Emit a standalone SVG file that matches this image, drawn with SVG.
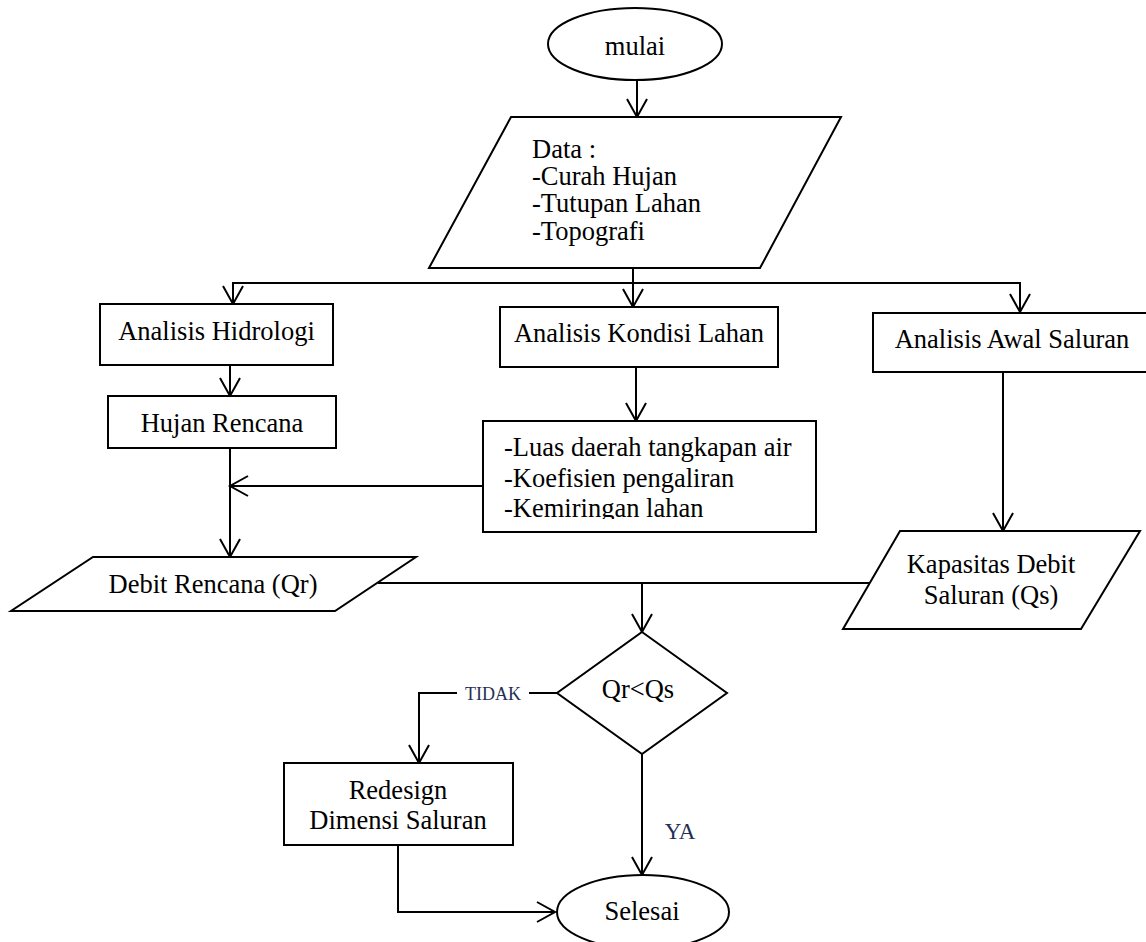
<svg xmlns="http://www.w3.org/2000/svg" width="1146" height="942" viewBox="0 0 1146 942">
  <style>
    .shape { fill: #ffffff; stroke: #000000; stroke-width: 2; }
    .link { fill: none; stroke: #000000; stroke-width: 2; }
    .txt { font-family: "Liberation Serif", "Times New Roman", serif; font-size: 26.5px; fill: #000000; }
    .mid { text-anchor: middle; }
    .lbl { font-family: "Liberation Serif", "Times New Roman", serif; fill: #1f2f55; }
  </style>
  <defs>
    <marker id="arrow" viewBox="-2 -2 22 24" refX="18" refY="10" markerWidth="22" markerHeight="24" markerUnits="userSpaceOnUse" orient="auto" overflow="visible">
      <path d="M0,0 L18,10 L0,20" fill="none" stroke="#000000" stroke-width="2"/>
    </marker>
    <clipPath id="clipLuas">
      <rect x="483" y="421" width="333" height="98"/>
    </clipPath>
  </defs>

  <rect width="1146" height="942" fill="#ffffff"/>

  <!-- connectors -->
  <g id="connectors">
    <path class="link" d="M637,80 V117" marker-end="url(#arrow)"/>
    <path class="link" d="M633,268 V307" marker-end="url(#arrow)"/>
    <path class="link" d="M633,283 H233 V304" marker-end="url(#arrow)"/>
    <path class="link" d="M633,283 H1020 V312" marker-end="url(#arrow)"/>
    <path class="link" d="M230,365 V396" marker-end="url(#arrow)"/>
    <path class="link" d="M230,448 V557" marker-end="url(#arrow)"/>
    <path class="link" d="M483,486 H230" marker-end="url(#arrow)"/>
    <path class="link" d="M636,367 V421" marker-end="url(#arrow)"/>
    <path class="link" d="M1003,372 V531" marker-end="url(#arrow)"/>
    <path class="link" d="M378,583 H870"/>
    <path class="link" d="M642,583 V632" marker-end="url(#arrow)"/>
    <path class="link" d="M557,693 H529"/>
    <path class="link" d="M457,693 H419 V763" marker-end="url(#arrow)"/>
    <path class="link" d="M642,754 V875" marker-end="url(#arrow)"/>
    <path class="link" d="M398,845 V912 H555" marker-end="url(#arrow)"/>
    <text class="lbl" x="493" y="700" font-size="18" text-anchor="middle" textLength="56" lengthAdjust="spacingAndGlyphs">TIDAK</text>
    <text class="lbl" x="680" y="839" font-size="23" text-anchor="middle">YA</text>
  </g>

  <!-- start -->
  <g id="mulai">
    <ellipse class="shape" cx="635" cy="44" rx="87" ry="36"/>
    <text class="txt mid" x="635" y="55">mulai</text>
  </g>

  <!-- input data -->
  <g id="data">
    <polygon class="shape" points="511,117 841,117 760,268 429,268"/>
    <text class="txt" x="532" y="158">Data :</text>
    <text class="txt" x="532" y="185">-Curah Hujan</text>
    <text class="txt" x="532" y="212">-Tutupan Lahan</text>
    <text class="txt" x="532" y="240">-Topografi</text>
  </g>

  <g id="analisis-hidrologi">
    <rect class="shape" x="100" y="304" width="233" height="61"/>
    <text class="txt mid" x="216.5" y="340">Analisis Hidrologi</text>
  </g>

  <g id="hujan-rencana">
    <rect class="shape" x="108" y="396" width="228" height="52"/>
    <text class="txt mid" x="222" y="432">Hujan Rencana</text>
  </g>

  <g id="analisis-kondisi-lahan">
    <rect class="shape" x="500" y="307" width="278" height="60"/>
    <text class="txt mid" x="639" y="342">Analisis Kondisi Lahan</text>
  </g>

  <g id="parameter-lahan">
    <rect class="shape" x="483" y="421" width="333" height="111"/>
    <text class="txt" x="504" y="456">-Luas daerah tangkapan air</text>
    <text class="txt" x="504" y="487">-Koefisien pengaliran</text>
    <text class="txt" x="504" y="517" clip-path="url(#clipLuas)">-Kemiringan lahan</text>
  </g>

  <g id="analisis-awal-saluran">
    <rect class="shape" x="873" y="313" width="280" height="59"/>
    <text class="txt mid" x="1012" y="348">Analisis Awal Saluran</text>
  </g>

  <g id="debit-rencana">
    <polygon class="shape" points="93,557 416,557 335,611 11,611"/>
    <text class="txt mid" x="213" y="593">Debit Rencana (Qr)</text>
  </g>

  <g id="kapasitas-debit">
    <polygon class="shape" points="900,531 1140,531 1081,629 843,629"/>
    <text class="txt mid" x="991" y="573">Kapasitas Debit</text>
    <text class="txt mid" x="991" y="604">Saluran (Qs)</text>
  </g>

  <g id="keputusan">
    <polygon class="shape" points="642,632 727,693 642,754 557,693"/>
    <text class="txt mid" x="638" y="698">Qr&lt;Qs</text>
  </g>

  <g id="redesign">
    <rect class="shape" x="284" y="763" width="229" height="82"/>
    <text class="txt mid" x="398" y="799">Redesign</text>
    <text class="txt mid" x="398" y="829">Dimensi Saluran</text>
  </g>

  <g id="selesai">
    <ellipse class="shape" cx="643" cy="912" rx="86" ry="37"/>
    <text class="txt mid" x="642" y="920">Selesai</text>
  </g>
</svg>
